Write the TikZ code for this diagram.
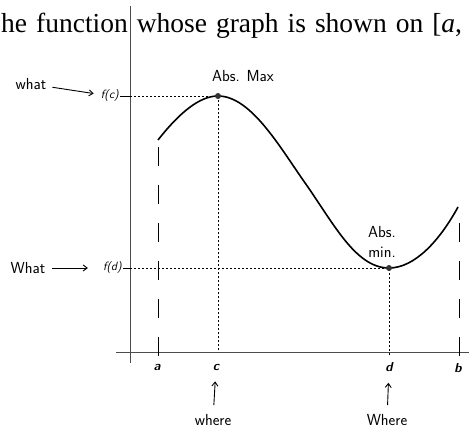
\documentclass[tikz,border=0pt]{standalone}
\usepackage{fontspec}
\usepackage{tikz}
\usetikzlibrary{calc,positioning,arrows.meta}
\newfontfamily\introfont{Liberation Serif}

\begin{document}
\begin{tikzpicture}[x=1pt,y=1pt,>={Straight Barb[length=4pt,width=6pt]}]
  \tikzset{
    hand/.style={font=\sffamily\fontsize{16}{20}\selectfont,inner sep=1pt},
    value/.style={font=\sffamily\itshape\fontsize{12}{12}\selectfont,inner sep=1pt},
    point/.style={font=\sffamily\bfseries\itshape\fontsize{13}{13}\selectfont,inner sep=1pt},
    guide/.style={line width=0.8pt,dash pattern=on 2pt off 2pt},
    bound/.style={line width=0.9pt,dash pattern=on 19pt off 19pt},
  }
  \useasboundingbox (0,0) rectangle (469,432);
  \coordinate (xl) at (116,80);
  \coordinate (xr) at (469,80);
  \coordinate (yt) at (130,426);
  \coordinate (yb) at (130,69);
  \coordinate (c) at (218,80);
  \coordinate (d) at (389,80);
  \coordinate (start) at (158,292);
  \coordinate (max) at (218,336);
  \coordinate (infl) at (303,252);
  \coordinate (min) at (389,164);
  \coordinate (end) at (458,225);
  \coordinate (yc) at (130,336);
  \coordinate (yd) at (130,164);

  \node[anchor=base west,inner sep=0pt,font=\introfont\fontsize{27.5}{32}\selectfont] (intro) at (1,399) {\spaceskip=9pt plus 2pt he function whose graph is shown on [\textit{a},};

  \draw[line width=1pt,gray!60!black] (xl) -- (xr);
  \draw[line width=1pt,gray!60!black] (yt) -- (yb);

  \draw[bound] (158,285) -- (158,76);
  \draw[bound] (459,209) -- (459,73);

  \draw[guide] (yc) -- (max) -- (c);
  \draw[guide] (yd) -- (min) -- ($(d)+(0,-4)$);

  \draw[line width=1.6pt] (start) .. controls (180,320) and (200,336) .. (max)
    .. controls (250,336) and (278,288) .. (infl)
    .. controls (333,210) and (355,164) .. (min)
    .. controls (415,164) and (440,192) .. (end);

  \fill[gray!40!black] (max) circle (3pt);
  \fill[gray!40!black] (min) circle (3pt);

  \node[hand] (absmax) at (243,356) {Abs. Max};
  \node[hand,align=center] (absmin) at (382,190) {Abs.\\min.};

  \node[value,anchor=east] (fc) at (120,336) {f(c)};
  \node[value,anchor=east] (fd) at (123,164) {f(d)};
  \draw[line width=0.8pt] (fc) -- (yc);
  \draw[line width=0.8pt] (fd) -- (yd);

  \node[hand] (whatc) at (31,348) {what};
  \node[hand] (whatd) at (28,164) {What};
  \draw[->,line width=0.9pt,shorten <=5pt,shorten >=6pt] (whatc) -- (fc);
  \draw[->,line width=0.9pt,shorten <=6pt,shorten >=14pt] (whatd) -- (fd);

  \node[point] (la) at (157,65) {a};
  \node[point] (lc) at (216,65) {c};
  \node[point] (ld) at (389,65) {d};
  \node[point] (lb) at (458,64) {b};

  \node[hand] (wherec) at (213,12) {where};
  \node[hand] (whered) at (387,12) {Where};
  \draw[->,line width=0.9pt,shorten <=8pt,shorten >=10pt] (wherec) -- (lc);
  \draw[->,line width=0.9pt,shorten <=8pt,shorten >=10pt] (whered) -- (ld);

\end{tikzpicture}
\end{document}
